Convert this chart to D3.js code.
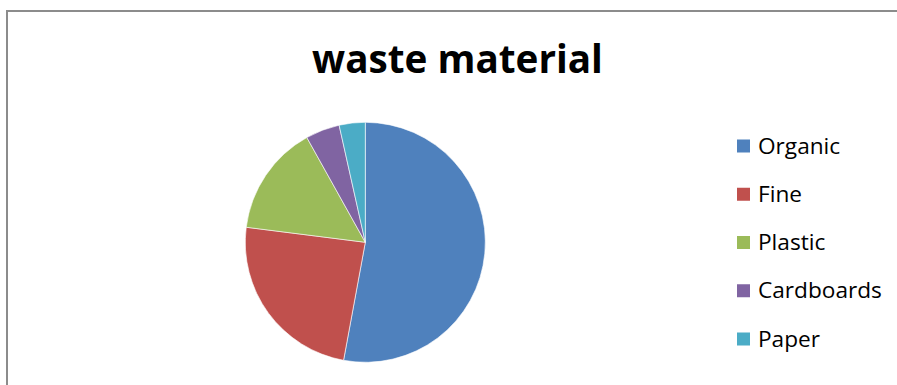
<!DOCTYPE html>
<html><head><meta charset="utf-8">
<script src="https://cdn.jsdelivr.net/npm/d3@7"></script>
<style>html,body{margin:0;padding:0;background:#fff;}svg{display:block;}</style>
</head><body>
<svg id="chart" width="897" height="385"></svg>
<script>
const categories = ["Organic", "Fine", "Plastic", "Cardboards", "Paper"];
const values = [52.9, 24.1, 14.9, 4.6, 3.5];
const colors = ["#4f81bd", "#c0504d", "#9bbb59", "#8064a2", "#4bacc6"];
const title = "waste material";

const svg = d3.select("#chart");
const W = 897, H = 385;
const FONT = "'Open Sans', Lato, sans-serif";

// chart frame
svg.append("rect").attr("x", 7).attr("y", 11).attr("width", W).attr("height", H)
  .attr("fill", "#fff").attr("stroke", "#8c8c8c").attr("stroke-width", 2);

const t = svg.append("text").attr("x", 457.5).attr("y", 73)
  .attr("text-anchor", "middle")
  .attr("font-family", FONT)
  .attr("font-weight", "bold").attr("font-size", 38).attr("fill", "#000")
  .text(title);
// fit title to reference width (~291px)
{
  const w = t.node().getComputedTextLength();
  t.attr("font-size", 38 * 291 / w);
}

const cx = 365.3, cy = 242.3, r = 120;
const pie = d3.pie().sort(null).value(d => d);
const arc = d3.arc().innerRadius(0).outerRadius(r);
const g = svg.append("g").attr("transform", `translate(${cx},${cy})`);
g.selectAll("path").data(pie(values)).join("path")
  .attr("d", arc)
  .attr("fill", (d, i) => colors[i])
  .attr("stroke", "#fff").attr("stroke-width", 0.6);

const color = d3.scaleOrdinal().domain(categories).range(colors);
const ly = d3.scalePoint().domain(categories).range([146, 339]);
const lg = svg.append("g");
const items = lg.selectAll("g").data(categories).join("g")
  .attr("transform", d => `translate(737,${ly(d)})`);
items.append("rect").attr("x", 0).attr("y", -6.5).attr("width", 13).attr("height", 13)
  .attr("fill", d => color(d));
const lt = items.append("text").attr("x", 21).attr("y", 7.5)
  .attr("font-family", FONT)
  .attr("font-size", 20).attr("fill", "#000")
  .text(d => d);
// fit legend font so "Cardboards" spans ~124px
{
  const node = lt.filter(d => d === "Cardboards").node();
  const w = node.getComputedTextLength();
  lt.attr("font-size", 20 * 124 / w);
}
</script>
</body></html>
